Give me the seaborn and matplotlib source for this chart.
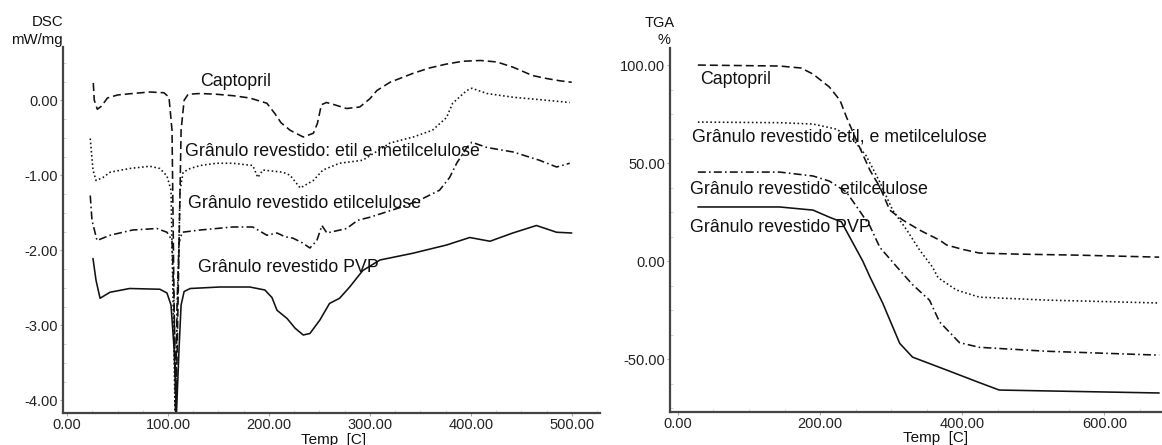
import matplotlib
matplotlib.use("Agg")
import matplotlib.pyplot as plt
import numpy as np
import pandas as pd
import seaborn as sns
from matplotlib.ticker import FixedLocator, FormatStrFormatter, MultipleLocator

# ---------------- DSC data (Temp [C], mW/mg) ----------------
dsc_cap_t = [26, 27, 30, 34, 40, 50, 65, 82, 96, 101, 104, 106, 108, 110, 113, 116, 120, 132,
             148, 165, 181, 198, 206, 212, 221, 234, 244, 248, 252, 257, 265, 277, 290, 300,
             307, 320, 343, 359, 375, 392, 410, 426, 442, 461, 475, 488, 500]
dsc_cap_v = [0.23, 0.0, -0.12, -0.08, 0.03, 0.07, 0.09, 0.11, 0.10, 0.04, -0.4, -2.67, -4.15,
             -2.67, -0.4, 0.0, 0.08, 0.09, 0.08, 0.06, 0.03, -0.04, -0.18, -0.3, -0.4, -0.49,
             -0.44, -0.31, -0.06, -0.03, -0.06, -0.11, -0.09, 0.02, 0.13, 0.24, 0.36, 0.43,
             0.48, 0.52, 0.53, 0.51, 0.44, 0.33, 0.29, 0.26, 0.24]

dsc_em_t = [23, 25.7, 28.7, 35.6, 42.6, 62, 82, 92, 99, 103, 105, 107, 109.5, 112, 115, 122,
            132, 148, 164, 184, 189, 194, 214, 221, 231, 244, 253.5, 270, 293, 320, 343, 362,
            376, 382, 396, 401, 416, 442, 475, 498]
dsc_em_v = [-0.51, -0.93, -1.07, -1.03, -0.96, -0.91, -0.88, -0.91, -1.01, -1.2, -2.67, -4.15,
            -2.67, -1.2, -0.96, -0.91, -0.87, -0.84, -0.84, -0.87, -1.03, -0.93, -0.96, -1.0,
            -1.17, -1.07, -0.93, -0.84, -0.8, -0.57, -0.49, -0.4, -0.23, -0.04, 0.13, 0.16,
            0.09, 0.04, 0.0, -0.03]

dsc_ec_t = [23, 24.7, 29.7, 42.6, 65, 89, 99, 104, 106, 107.5, 109, 111, 114, 132, 164, 184,
            198, 208, 216, 224, 233, 240.6, 247.5, 252.5, 257.4, 277, 288, 300, 330, 349.5,
            369, 379, 386, 396, 401, 416, 442, 468, 485, 498]
dsc_ec_v = [-1.27, -1.6, -1.87, -1.8, -1.73, -1.71, -1.76, -1.87, -2.7, -4.15, -2.7, -1.9,
            -1.76, -1.73, -1.69, -1.69, -1.8, -1.77, -1.82, -1.84, -1.9, -1.97, -1.87, -1.67,
            -1.77, -1.71, -1.6, -1.56, -1.43, -1.33, -1.2, -1.03, -0.84, -0.63, -0.56, -0.63,
            -0.69, -0.8, -0.89, -0.84]

dsc_pvp_t = [25.7, 28.7, 32.7, 42.6, 62, 92, 99, 103, 106, 108.5, 111, 113, 116, 122, 151.5,
             181, 196, 203, 208, 218, 226, 234, 240.6, 250.5, 260, 270, 280, 293, 310, 342.6,
             376, 399, 419, 441.6, 465, 485, 500]
dsc_pvp_v = [-2.11, -2.4, -2.64, -2.56, -2.51, -2.52, -2.57, -2.73, -3.3, -4.15, -3.3, -2.73,
             -2.55, -2.51, -2.49, -2.49, -2.53, -2.63, -2.8, -2.91, -3.04, -3.13, -3.11, -2.93,
             -2.71, -2.64, -2.49, -2.27, -2.13, -2.04, -1.93, -1.83, -1.88, -1.77, -1.67,
             -1.76, -1.77]

# ---------------- TGA data (Temp [C], %) ----------------
tga_cap_t = [28, 143, 173, 190, 213, 228, 237, 251, 270, 284, 298, 316, 340, 368, 378, 400,
             424, 471, 565, 677]
tga_cap_v = [100, 99.5, 98.5, 95.4, 88.8, 82, 73.5, 61.7, 46.4, 37.8, 26, 21, 15.8, 10.7, 8.2,
             6, 4.1, 3.6, 3, 2]

tga_em_t = [28, 143, 190, 223, 246, 265, 284, 302, 322, 340, 358, 366, 392, 424, 518, 677]
tga_em_v = [70.9, 70.6, 69.9, 67.3, 62.2, 53.6, 40.3, 26, 15.8, 5.6, -3, -8.5, -14.8, -18.4,
            -19.9, -21.4]

tga_ec_t = [28, 143, 190, 213, 237, 251, 270, 284, 308, 330, 354, 368, 396, 424, 518, 677]
tga_ec_v = [45.4, 45.4, 43.4, 40.8, 35.2, 28, 17.9, 7, -3, -12, -20, -31, -41.6, -44, -46, -48]

tga_pvp_t = [28, 143, 190, 213, 230, 242, 251, 260, 270, 288, 312, 330, 378, 424, 452, 677]
tga_pvp_v = [27.6, 27.6, 26, 22.4, 20, 12, 6, 0, -8, -21.4, -42, -49, -55.6, -62, -65.8, -67.3]

series_names = ["Captopril", "EtilMetil", "Etil", "PVP"]

dsc_labels = ["Captopril", "Grânulo revestido: etil e metilcelulose",
              "Grânulo revestido etilcelulose", "Grânulo revestido PVP"]
tga_labels = ["Captopril", "Grânulo revestido etil, e metilcelulose",
              "Grânulo revestido  etilcelulose", "Grânulo revestido PVP"]

dsc_ticks_x = [0, 100, 200, 300, 400, 500]
dsc_ticks_y = [0, -1, -2, -3, -4]
tga_ticks_x = [0, 200, 400, 600]
tga_ticks_y = [100, 50, 0, -50]


def build(ts, vs):
    frames = []
    for name, t, v in zip(series_names, ts, vs):
        frames.append(pd.DataFrame({"Temp": t, "val": v, "series": name}))
    return pd.concat(frames, ignore_index=True)


dsc_df = build([dsc_cap_t, dsc_em_t, dsc_ec_t, dsc_pvp_t],
               [dsc_cap_v, dsc_em_v, dsc_ec_v, dsc_pvp_v])
tga_df = build([tga_cap_t, tga_em_t, tga_ec_t, tga_pvp_t],
               [tga_cap_v, tga_em_v, tga_ec_v, tga_pvp_v])

sns.set_theme(style="white")
plt.rcParams["font.family"] = ["Liberation Sans", "DejaVu Sans"]
plt.rcParams["axes.unicode_minus"] = False

W, H = 1162, 445
fig = plt.figure(figsize=(W / 100, H / 100), dpi=100)
fig.patch.set_facecolor("white")


def px_axes(x0, y0, x1, y1):
    return fig.add_axes([x0 / W, 1 - y1 / H, (x1 - x0) / W, (y1 - y0) / H])


ax1 = px_axes(63, 47, 600, 413)
ax2 = px_axes(670, 48, 1162, 412)

dash_map = {"Captopril": (5, 2.5), "EtilMetil": (1, 1.6), "Etil": (5, 2, 1, 2), "PVP": ""}

for ax, df in [(ax1, dsc_df), (ax2, tga_df)]:
    sns.lineplot(data=df, x="Temp", y="val", style="series", dashes=dash_map,
                 color="#111111", linewidth=1.15, estimator=None, sort=False,
                 legend=False, ax=ax)

ax1.set_xlim(-4, 528)
ax1.set_ylim(-4.17, 0.71)
ax2.set_xlim(-11.2, 681)
ax2.set_ylim(-77, 108.7)

for ax, xt, yt in [(ax1, dsc_ticks_x, dsc_ticks_y), (ax2, tga_ticks_x, tga_ticks_y)]:
    ax.set_xlabel("")
    ax.set_ylabel("")
    ax.xaxis.set_major_locator(FixedLocator(xt))
    ax.yaxis.set_major_locator(FixedLocator(yt))
    ax.xaxis.set_major_formatter(FormatStrFormatter("%.2f"))
    ax.yaxis.set_major_formatter(FormatStrFormatter("%.2f"))
    for s in ["top", "right"]:
        ax.spines[s].set_visible(False)
    for s in ["left", "bottom"]:
        ax.spines[s].set_color("#444444")
        ax.spines[s].set_linewidth(1.6)
    ax.tick_params(axis="both", which="major", labelsize=10.5, labelcolor="#222222",
                   length=2.5, width=0.8, color="#aaaaaa", pad=1, direction="out",
                   left=True, bottom=True)
    ax.set_facecolor("white")

ax1.xaxis.set_minor_locator(MultipleLocator(25))
ax1.yaxis.set_minor_locator(MultipleLocator(0.25))
ax2.xaxis.set_minor_locator(MultipleLocator(50))
ax2.yaxis.set_minor_locator(MultipleLocator(12.5))
for ax in (ax1, ax2):
    ax.tick_params(which="minor", length=2, width=0.6, color="#cccccc", direction="in",
                   left=True, bottom=True)


def ftext(x, y, s, size=12.8, ha="left", color="#111111"):
    fig.text(x / W, 1 - y / H, s, ha=ha, va="center", fontsize=size, color=color)


# DSC annotations
ftext(200, 82, dsc_labels[0])
ftext(185, 152, dsc_labels[1])
ftext(188, 203, dsc_labels[2])
ftext(198, 268, dsc_labels[3])
ftext(63, 22, "DSC", size=10.8, ha="right")
ftext(63, 40, "mW/mg", size=10.8, ha="right")
ftext(334, 440, "Temp  [C]", size=11, ha="center")

# TGA annotations
ftext(700, 79, tga_labels[0])
ftext(692, 137, tga_labels[1])
ftext(690, 190, tga_labels[2])
ftext(690, 228, tga_labels[3])
ftext(675, 23, "TGA", size=10.5, ha="right")
ftext(670, 40, "%", size=10.5, ha="right")
ftext(936, 438, "Temp  [C]", size=11, ha="center")

fig.savefig("out.png", dpi=100, facecolor="white")
